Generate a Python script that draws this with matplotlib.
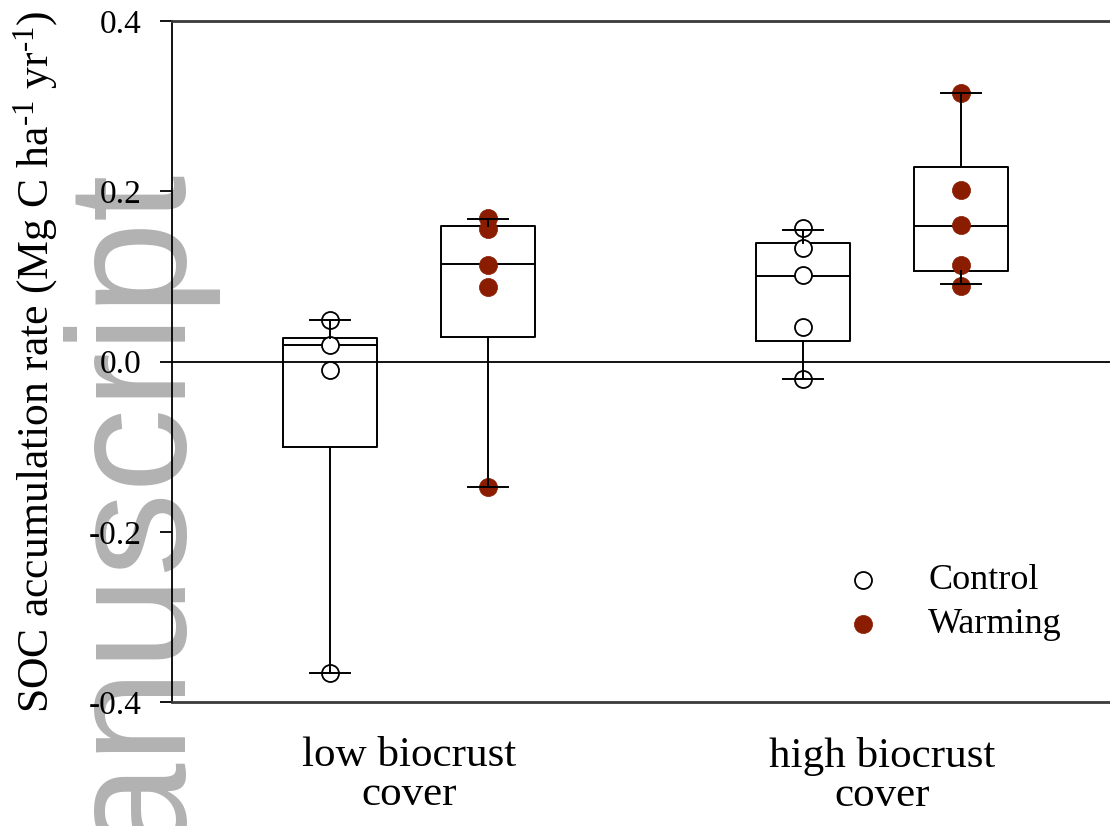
import numpy as np
import matplotlib
matplotlib.use('Agg')
import matplotlib.pyplot as plt

plt.rcParams['font.family'] = 'Liberation Serif'
plt.rcParams['mathtext.fontset'] = 'custom'
plt.rcParams['mathtext.rm'] = 'Liberation Serif'
plt.rcParams['mathtext.it'] = 'Liberation Serif:italic'

# groups on the x axis
groups = ['low biocrust\ncover', 'high biocrust\ncover']

# individual plot values (Mg C ha-1 yr-1)
control_points = [[0.049, 0.020, -0.010, -0.366],
                  [0.157, 0.134, 0.102, 0.041, -0.021]]
warming_points = [[0.169, 0.156, 0.114, 0.088, -0.147],
                  [0.315, 0.202, 0.160, 0.113, 0.089]]

# box summaries per group
control_q1 = [-0.100, 0.024]
control_med = [0.019, 0.101]
control_q3 = [0.028, 0.139]
control_lo = [-0.366, -0.021]
control_hi = [0.049, 0.155]

warming_q1 = [0.029, 0.106]
warming_med = [0.115, 0.159]
warming_q3 = [0.159, 0.229]
warming_lo = [-0.147, 0.091]
warming_hi = [0.167, 0.315]

warm_color = '#8a1c00'
offset = 0.167

fig = plt.figure(figsize=(11.1, 8.26), dpi=100)
ax = fig.add_axes([0.155, 0.15, 0.845, 0.8245])
ax.set_facecolor('none')

# grey watermark running up the left margin
fig.text(172 / 1110, 1 - 160 / 826, 'Manuscript', rotation=90,
         rotation_mode='anchor', ha='right', va='baseline', fontsize=121,
         family='Liberation Sans', color='#b2b2b2', zorder=-5)

xpos = np.arange(1, len(groups) + 1)


def box_stats(q1, med, q3, lo, hi):
    return [dict(q1=a, med=b, q3=c, whislo=d, whishi=e, fliers=[])
            for a, b, c, d, e in zip(q1, med, q3, lo, hi)]


stats = box_stats(control_q1, control_med, control_q3, control_lo, control_hi)
stats += box_stats(warming_q1, warming_med, warming_q3, warming_lo, warming_hi)
positions = list(xpos - offset) + list(xpos + offset)

line = dict(color='black', lw=1.4)
ax.bxp(stats, positions=positions, widths=0.2, capwidths=0.085,
       showfliers=False, manage_ticks=False,
       boxprops=dict(line, zorder=2), medianprops=dict(line, zorder=2),
       whiskerprops=dict(line, zorder=4), capprops=dict(line, zorder=4))

for i in range(len(groups)):
    ax.scatter(np.full(len(control_points[i]), xpos[i] - offset), control_points[i],
               s=150, facecolor='white', edgecolor='black', linewidth=1.3, zorder=3,
               label='Control' if i == 0 else None)
    ax.scatter(np.full(len(warming_points[i]), xpos[i] + offset), warming_points[i],
               s=170, facecolor=warm_color, edgecolor=warm_color, linewidth=0.5, zorder=3,
               label='Warming' if i == 0 else None)

ax.axhline(0, color='black', lw=1.3, zorder=1)

ax.set_xlim(0.499, 2.482)
ax.set_ylim(-0.4, 0.4)
ax.set_yticks([-0.4, -0.2, 0.0, 0.2, 0.4])
ax.set_yticklabels(['-0.4', '-0.2', '0.0', '0.2', '0.4'])
ax.set_xticks(xpos)
ax.set_xticklabels(groups, fontsize=31, linespacing=1.02)
ax.tick_params(axis='x', length=0, pad=25)
ax.tick_params(axis='y', length=9, width=1.3, pad=13, labelsize=24, direction='out')

ax.spines['right'].set_visible(False)
ax.spines['left'].set_linewidth(1.3)
for side in ['top', 'bottom']:
    ax.spines[side].set_linewidth(2)
    ax.spines[side].set_color('#3a3a3a')

ax.set_ylabel('SOC accumulation rate (Mg C ha$^{\u20101}$ yr$^{\u20101}$)', fontsize=31.5)
ax.yaxis.set_label_coords(-0.119, 0.5)

ax.legend(loc='upper left', bbox_to_anchor=(0.7175, 0.203), frameon=False,
          fontsize=26, handlelength=1, handletextpad=1.3, labelspacing=0.3,
          borderaxespad=0, borderpad=0, markerscale=1.0)

fig.savefig('out.png', dpi=100)
